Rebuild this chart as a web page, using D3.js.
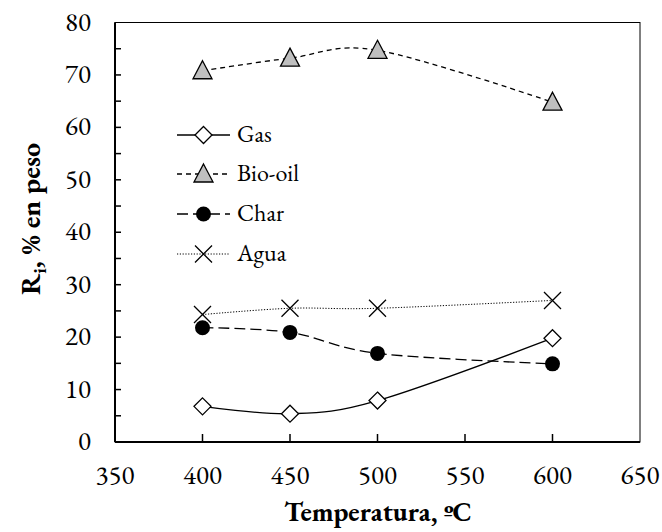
<!DOCTYPE html>
<html>
<head>
<meta charset="utf-8">
<script src="https://cdn.jsdelivr.net/npm/d3@7"></script>
<style>
  body { margin: 0; background: #fff; }
</style>
</head>
<body>
<div id="chart"></div>
<script>
// data
const temps = [400, 450, 500, 600]
const gas = [6.8, 5.4, 7.9, 19.8]
const bioOil = [70.8, 73.2, 74.7, 64.8]
const charValues = [21.8, 20.9, 16.9, 14.9]
const agua = [24.3, 25.5, 25.5, 27.0]
const xTicks = [350, 400, 450, 500, 550, 600, 650]
const yTicks = [0, 10, 20, 30, 40, 50, 60, 70, 80]

const series = [
  { name: 'Gas', values: gas, marker: 'diamond', dash: null },
  { name: 'Bio-oil', values: bioOil, marker: 'triangle', dash: '5,4' },
  { name: 'Char', values: charValues, marker: 'circle', dash: '11,5' },
  { name: 'Agua', values: agua, marker: 'cross', dash: '1.2,1.6' }
]

const FONT = 'EB Garamond'

const dimensions = {
  width: 662,
  height: 532,
  margin: { top: 22.5, right: 22, bottom: 90, left: 115 }
}
const innerW = dimensions.width - dimensions.margin.left - dimensions.margin.right
const innerH = dimensions.height - dimensions.margin.top - dimensions.margin.bottom

const svg = d3.select('#chart').append('svg')
  .attr('width', dimensions.width)
  .attr('height', dimensions.height)

const bounds = svg.append('g')
  .attr('transform', `translate(${dimensions.margin.left}, ${dimensions.margin.top})`)

const xScale = d3.scaleLinear().domain([350, 650]).range([0, innerW])
const yScale = d3.scaleLinear().domain([0, 80]).range([innerH, 0])

// frame
bounds.append('rect')
  .attr('width', innerW)
  .attr('height', innerH)
  .attr('fill', 'none')
  .attr('stroke', '#000')
  .attr('stroke-width', 1)
// heavier left and bottom axis lines
bounds.append('line').attr('x1', 0).attr('x2', 0).attr('y1', 0).attr('y2', innerH)
  .attr('stroke', '#000').attr('stroke-width', 2)
bounds.append('line').attr('x1', 0).attr('x2', innerW).attr('y1', innerH).attr('y2', innerH)
  .attr('stroke', '#000').attr('stroke-width', 2)

// y ticks inside, every 5
bounds.selectAll('.ytick')
  .data(d3.range(5, 80, 5))
  .join('line')
  .attr('x1', 0).attr('x2', 6)
  .attr('y1', d => yScale(d)).attr('y2', d => yScale(d))
  .attr('stroke', '#000').attr('stroke-width', 1.5)

bounds.selectAll('.ylabel')
  .data(yTicks)
  .join('text')
  .attr('x', -24)
  .attr('y', d => yScale(d))
  .attr('dy', '0.3em')
  .attr('text-anchor', 'end')
  .attr('font-family', FONT)
  .attr('font-size', 27)
  .text(d => d)

// x ticks inside
bounds.selectAll('.xtick')
  .data(xTicks.slice(1, -1))
  .join('line')
  .attr('x1', d => xScale(d)).attr('x2', d => xScale(d))
  .attr('y1', innerH).attr('y2', innerH - 8)
  .attr('stroke', '#000').attr('stroke-width', 1.5)

bounds.selectAll('.xlabel')
  .data(xTicks)
  .join('text')
  .attr('x', d => xScale(d))
  .attr('y', innerH + 42)
  .attr('text-anchor', 'middle')
  .attr('font-family', FONT)
  .attr('font-size', 27)
  .text(d => d)

// axis titles
svg.append('text')
  .attr('x', 378)
  .attr('y', 521)
  .attr('text-anchor', 'middle')
  .attr('font-family', FONT)
  .attr('font-size', 27)
  .attr('font-weight', 'bold')
  .text('Temperatura, ºC')

const yTitle = svg.append('text')
  .attr('transform', 'translate(40, 219) rotate(-90)')
  .attr('text-anchor', 'middle')
  .attr('font-family', FONT)
  .attr('font-size', 28)
  .attr('font-weight', 'bold')
yTitle.append('tspan').text('R')
yTitle.append('tspan').attr('dy', 6).attr('font-size', 19).text('i')
yTitle.append('tspan').attr('dy', -6).text(', % en peso')

// markers
function drawMarker (g, type, x, y) {
  if (type === 'diamond') {
    g.append('path')
      .attr('d', `M${x},${y - 8.5}L${x + 8.5},${y}L${x},${y + 8.5}L${x - 8.5},${y}Z`)
      .attr('fill', '#fff').attr('stroke', '#000').attr('stroke-width', 1.3)
  } else if (type === 'triangle') {
    g.append('path')
      .attr('d', `M${x},${y - 10}L${x + 9.5},${y + 8}L${x - 9.5},${y + 8}Z`)
      .attr('fill', '#bfbfbf').attr('stroke', '#000').attr('stroke-width', 1.3)
  } else if (type === 'circle') {
    g.append('circle')
      .attr('cx', x).attr('cy', y).attr('r', 7.5)
      .attr('fill', '#000')
  } else if (type === 'cross') {
    g.append('path')
      .attr('d', `M${x - 8.5},${y - 8.5}L${x + 8.5},${y + 8.5}M${x - 8.5},${y + 8.5}L${x + 8.5},${y - 8.5}`)
      .attr('fill', 'none').attr('stroke', '#000').attr('stroke-width', 1.3)
  }
}

// smoothed lines (Excel style)
const line = d3.line()
  .x(d => xScale(d[0]))
  .y(d => yScale(d[1]))
  .curve(d3.curveCardinal.tension(0))

series.forEach(s => {
  const pts = temps.map((t, i) => [t, s.values[i]])
  bounds.append('path')
    .datum(pts)
    .attr('fill', 'none')
    .attr('stroke', '#000')
    .attr('stroke-width', s.marker === 'cross' ? 1 : 1.3)
    .attr('stroke-dasharray', s.dash)
    .attr('d', line)
})
series.forEach(s => {
  const g = bounds.append('g')
  temps.forEach((t, i) => drawMarker(g, s.marker, xScale(t), yScale(s.values[i])))
})

// legend
const legendY = [135, 174, 214, 254]
const legend = svg.append('g')
series.forEach((s, i) => {
  const y = legendY[i]
  legend.append('line')
    .attr('x1', 177).attr('x2', 230)
    .attr('y1', y).attr('y2', y)
    .attr('stroke', '#000')
    .attr('stroke-width', s.marker === 'cross' ? 1 : 1.3)
    .attr('stroke-dasharray', s.dash)
  drawMarker(legend, s.marker, 203.5, y)
  legend.append('text')
    .attr('x', 237)
    .attr('y', y)
    .attr('dy', '0.3em')
    .attr('font-family', FONT)
    .attr('font-size', 24)
    .text(s.name)
})
</script>
</body>
</html>
